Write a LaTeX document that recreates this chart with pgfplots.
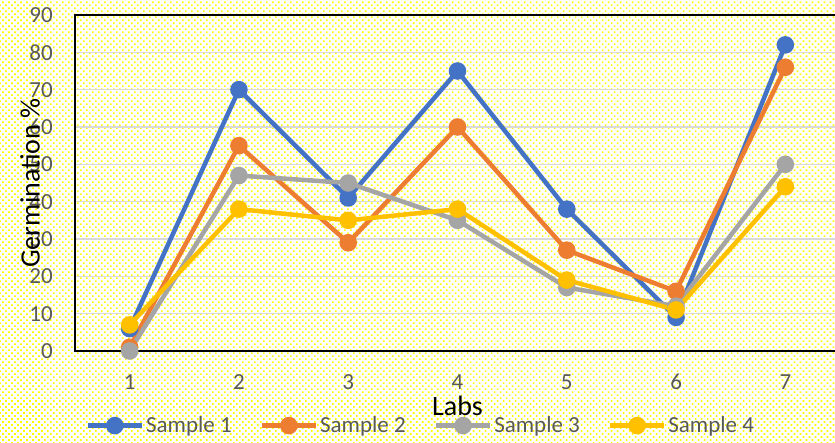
\documentclass[border=0pt]{standalone}
\usepackage{pgfplots}
\pgfplotsset{compat=1.18}
\usepackage{fontspec}
\setmainfont{Carlito}
\usetikzlibrary{patterns.meta}
\definecolor{sA}{HTML}{4472C4}
\definecolor{sB}{HTML}{ED7D31}
\definecolor{sC}{HTML}{A5A5A5}
\definecolor{sD}{HTML}{FFC000}
\definecolor{dotyellow}{HTML}{FFFF00}
\definecolor{gridgray}{HTML}{D9D9D9}
\definecolor{ticklab}{HTML}{595959}
\begin{document}
\begin{tikzpicture}
\useasboundingbox (0,0) rectangle (835bp,443bp);
\fill[white] (0,0) rectangle (835bp,443bp);
\fill[pattern={Dots[distance=4.24bp,angle=45,radius=1.1bp]},pattern color=dotyellow] (0,0) rectangle (835bp,443bp);
\begin{axis}[
  at={(75bp,92bp)}, anchor=south west,
  scale only axis, width=765bp, height=336bp,
  xmin=0.5, xmax=7.5, ymin=0, ymax=90,
  xtick={1,...,7}, ytick={0,10,...,90},
  ymajorgrids, grid style={line width=1.5bp, color=gridgray},
  axis line style={line width=1.8bp, black},
  tick style={draw=none},
  /pgf/number format/assume math mode=true,
  ticklabel style={font=\fontsize{23bp}{26bp}\selectfont, text=ticklab, inner sep=0pt},
  xticklabel style={anchor=center, yshift=-31bp},
  yticklabel style={anchor=east, xshift=-22bp},
  xlabel={Labs}, ylabel={Germination \%},
  label style={font=\fontsize{28bp}{30bp}\selectfont},
  xlabel style={at={(rel axis cs:0.5,-0.162)}, anchor=center},
  ylabel style={at={(rel axis cs:-0.0588,0.5)}, anchor=center},
  legend columns=4,
  legend style={at={(rel axis cs:0.452,-0.222)}, anchor=center, draw=none, fill=none,
    font=\fontsize{23bp}{26bp}\selectfont, text=ticklab,
    /tikz/every even column/.append style={column sep=26bp}},
  legend image code/.code={\draw[mark repeat=2,mark phase=2,#1] plot coordinates {(0bp,0bp)(27bp,0bp)(54bp,0bp)};},
  every axis plot/.append style={line width=4.5bp, mark=*, mark size=6.5bp, mark options={solid}},
]
\addplot[color=sA] coordinates {(1,6)(2,70)(3,41)(4,75)(5,38)(6,9)(7,82)};
\addlegendentry{Sample 1}
\addplot[color=sB] coordinates {(1,1)(2,55)(3,29)(4,60)(5,27)(6,16)(7,76)};
\addlegendentry{Sample 2}
\addplot[color=sC] coordinates {(1,0)(2,47)(3,45)(4,35)(5,17)(6,12)(7,50)};
\addlegendentry{Sample 3}
\addplot[color=sD] coordinates {(1,7)(2,38)(3,35)(4,38)(5,19)(6,11)(7,44)};
\addlegendentry{Sample 4}
\end{axis}
\end{tikzpicture}
\end{document}
